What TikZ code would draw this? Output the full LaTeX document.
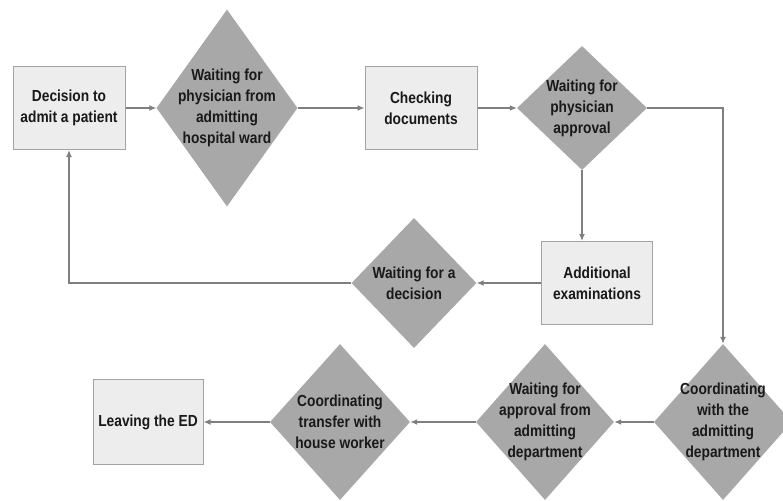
\documentclass[tikz,border=0pt]{standalone}
\usepackage{fontspec}
\setmainfont[FakeStretch=0.86]{Liberation Sans}
\usepackage{tikz}
\usetikzlibrary{positioning, shapes.geometric, arrows.meta}

\definecolor{boxfill}{HTML}{EDEDED}
\definecolor{boxline}{HTML}{A3A3A3}
\definecolor{diafill}{HTML}{A8A8A8}
\definecolor{arrowgray}{HTML}{7F7F7F}

\tikzset{
  stepbox/.style={rectangle, draw=boxline, fill=boxfill, line width=1pt,
    minimum width=112pt, minimum height=83pt, align=center, inner sep=2pt},
  waitdia/.style={diamond, fill=diafill, inner sep=0pt, aspect=1},
  txt/.style={align=center, inner sep=0pt},
  flow/.style={draw=arrowgray, line width=1.3pt, ->}
}

\begin{document}
\begin{tikzpicture}[x=1pt, y=-1pt, >={Latex[length=7pt,width=6pt]},
    font=\bfseries\fontsize{16}{21}\selectfont, text=black!90]
  \useasboundingbox (0,0) rectangle (783,500);

  % top row
  \node[stepbox] (admit) at (69,108) {Decision to\\admit a patient};
  \node[waitdia, minimum width=141pt, minimum height=197pt,
    label={[txt]center:Waiting for\\physician from\\admitting\\hospital ward}] (wardwait) at (227,108) {};
  \node[stepbox] (checkdoc) at (421,108) {Checking\\documents};
  \node[waitdia, minimum width=130pt, minimum height=124pt,
    label={[txt]center:Waiting for\\physician\\approval}] (approval) at (582,108) {};

  % middle row
  \node[stepbox, minimum width=111pt] (exams) at (597,283) {Additional\\examinations};
  \node[waitdia, minimum width=125pt, minimum height=130pt,
    label={[txt]center:Waiting for a\\decision}] (decisionwait) at (414,283) {};

  % bottom row
  \node[stepbox, minimum width=110pt, minimum height=85pt] (leave) at (148,422) {Leaving the ED};
  \node[waitdia, minimum width=140pt, minimum height=156pt,
    label={[txt]center:Coordinating\\transfer with\\house worker}] (transfer) at (340,422) {};
  \node[waitdia, minimum width=138pt, minimum height=156pt,
    label={[txt]center:Waiting for\\approval from\\admitting\\department}] (approvalwait) at (545,422) {};
  \node[waitdia, minimum width=138pt, minimum height=156pt,
    label={[txt]center:Coordinating\\with the\\admitting\\department}] (coordadmit) at (723,422) {};

  % connectors
  \draw[flow] (admit) -- (wardwait);
  \draw[flow] (wardwait) -- (checkdoc);
  \draw[flow] (checkdoc) -- (approval);
  \draw[flow] (approval.south) -- (approval.south |- exams.north);
  \draw[flow] (approval.east) -| (coordadmit.north);
  \draw[flow] (exams) -- (decisionwait);
  \draw[flow] (decisionwait.west) -| (admit.south);
  \draw[flow] (coordadmit) -- (approvalwait);
  \draw[flow] (approvalwait) -- (transfer);
  \draw[flow] (transfer) -- (leave);
\end{tikzpicture}
\end{document}
